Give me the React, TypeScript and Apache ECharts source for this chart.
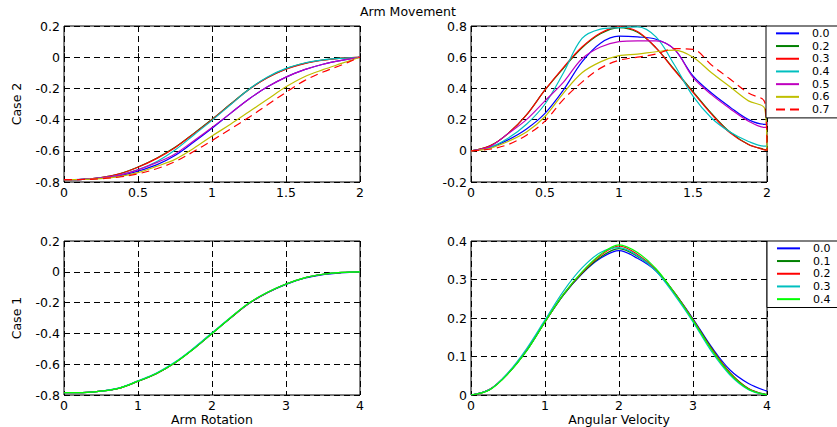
import React, { useEffect, useRef } from "react";
import * as echarts from "echarts";

// ---------- data ----------
const xTop = [0, 0.125, 0.25, 0.375, 0.5, 0.625, 0.75, 0.875, 1, 1.125, 1.25, 1.375, 1.5, 1.625, 1.75, 1.875, 1.985, 2];
const topNames = ["0.0", "0.2", "0.3", "0.4", "0.5", "0.6", "0.7"];
const topColors = ["#0000ff", "#008000", "#ff0000", "#00bfbf", "#bf00bf", "#bfbf00", "#ff0000"];

const posTop00 = [-0.785, -0.783, -0.775, -0.76, -0.73, -0.69, -0.63, -0.545, -0.455, -0.36, -0.268, -0.19, -0.128, -0.08, -0.045, -0.02, -0.003, 0];
const posTop02 = [-0.785, -0.783, -0.771, -0.747, -0.704, -0.648, -0.578, -0.49, -0.398, -0.3, -0.205, -0.13, -0.075, -0.04, -0.018, -0.006, -0.001, 0];
const posTop03 = [-0.785, -0.783, -0.772, -0.748, -0.705, -0.65, -0.58, -0.492, -0.4, -0.302, -0.207, -0.132, -0.077, -0.041, -0.019, -0.006, -0.001, 0];
const posTop04 = [-0.785, -0.783, -0.774, -0.755, -0.72, -0.67, -0.595, -0.5, -0.405, -0.305, -0.205, -0.127, -0.072, -0.037, -0.017, -0.007, -0.002, 0];
const posTop05 = [-0.785, -0.783, -0.774, -0.756, -0.722, -0.676, -0.62, -0.537, -0.45, -0.36, -0.268, -0.19, -0.128, -0.08, -0.045, -0.02, -0.003, 0];
const posTop06 = [-0.785, -0.784, -0.778, -0.765, -0.74, -0.7, -0.655, -0.585, -0.505, -0.43, -0.35, -0.27, -0.19, -0.125, -0.08, -0.04, -0.005, 0];
const posTop07 = [-0.785, -0.784, -0.779, -0.768, -0.748, -0.715, -0.67, -0.605, -0.535, -0.46, -0.385, -0.305, -0.225, -0.15, -0.095, -0.05, -0.006, 0];

const velTop00 = [0, 0.02, 0.07, 0.14, 0.24, 0.39, 0.57, 0.69, 0.735, 0.73, 0.715, 0.65, 0.48, 0.37, 0.28, 0.2, 0.17, 0.17];
const velTop02 = [0, 0.03, 0.11, 0.23, 0.39, 0.53, 0.66, 0.75, 0.79, 0.76, 0.66, 0.52, 0.38, 0.24, 0.12, 0.04, 0.008, 0.005];
const velTop03 = [0, 0.03, 0.11, 0.23, 0.39, 0.535, 0.665, 0.755, 0.795, 0.765, 0.66, 0.515, 0.375, 0.235, 0.115, 0.04, 0.006, 0.003];
const velTop04 = [0, 0.02, 0.08, 0.17, 0.3, 0.5, 0.72, 0.78, 0.79, 0.795, 0.73, 0.55, 0.35, 0.21, 0.12, 0.06, 0.03, 0.03];
const velTop05 = [0, 0.025, 0.11, 0.2, 0.32, 0.44, 0.59, 0.665, 0.7, 0.705, 0.705, 0.65, 0.47, 0.36, 0.27, 0.19, 0.15, 0.15];
const velTop06 = [0, 0.015, 0.06, 0.12, 0.22, 0.37, 0.5, 0.57, 0.61, 0.62, 0.635, 0.645, 0.6, 0.5, 0.41, 0.32, 0.27, 0];
const velTop07 = [0, 0.01, 0.04, 0.1, 0.19, 0.33, 0.44, 0.53, 0.58, 0.6, 0.62, 0.655, 0.65, 0.55, 0.46, 0.37, 0.31, 0];

const xBot = [0, 0.25, 0.5, 0.75, 1, 1.25, 1.5, 1.75, 2, 2.25, 2.5, 2.75, 3, 3.25, 3.5, 3.75, 4];
const botNames = ["0.0", "0.1", "0.2", "0.3", "0.4"];
const botColors = ["#0000ff", "#008000", "#ff0000", "#00bfbf", "#00ff00"];

const posBot00 = [-0.785, -0.784, -0.775, -0.755, -0.71, -0.66, -0.59, -0.5, -0.4, -0.3, -0.206, -0.136, -0.082, -0.042, -0.018, -0.006, 0];
const posBot01 = [-0.785, -0.784, -0.775, -0.755, -0.711, -0.661, -0.591, -0.501, -0.401, -0.301, -0.205, -0.135, -0.08, -0.04, -0.017, -0.005, 0];
const posBot02 = [-0.785, -0.784, -0.775, -0.755, -0.71, -0.66, -0.59, -0.5, -0.399, -0.299, -0.204, -0.134, -0.079, -0.039, -0.016, -0.004, 0];
const posBot03 = [-0.785, -0.784, -0.775, -0.754, -0.708, -0.657, -0.586, -0.496, -0.396, -0.297, -0.203, -0.133, -0.079, -0.039, -0.016, -0.004, 0];
const posBot04 = [-0.785, -0.784, -0.775, -0.755, -0.71, -0.66, -0.59, -0.501, -0.401, -0.298, -0.203, -0.133, -0.079, -0.039, -0.016, -0.004, 0];

const velBot00 = [0, 0.014, 0.056, 0.115, 0.19, 0.26, 0.315, 0.355, 0.375, 0.355, 0.322, 0.265, 0.198, 0.125, 0.065, 0.03, 0.01];
const velBot01 = [0, 0.014, 0.056, 0.115, 0.19, 0.26, 0.316, 0.358, 0.38, 0.36, 0.325, 0.266, 0.196, 0.122, 0.058, 0.017, 0.001];
const velBot02 = [0, 0.014, 0.056, 0.116, 0.19, 0.262, 0.318, 0.362, 0.387, 0.365, 0.325, 0.265, 0.195, 0.12, 0.057, 0.016, 0];
const velBot03 = [0, 0.014, 0.058, 0.12, 0.195, 0.27, 0.33, 0.37, 0.383, 0.362, 0.322, 0.26, 0.19, 0.113, 0.052, 0.014, 0];
const velBot04 = [0, 0.013, 0.055, 0.114, 0.19, 0.262, 0.32, 0.365, 0.39, 0.37, 0.328, 0.265, 0.194, 0.118, 0.055, 0.015, 0];

const posTop = [posTop00, posTop02, posTop03, posTop04, posTop05, posTop06, posTop07];
const velTop = [velTop00, velTop02, velTop03, velTop04, velTop05, velTop06, velTop07];
const posBot = [posBot00, posBot01, posBot02, posBot03, posBot04];
const velBot = [velBot00, velBot01, velBot02, velBot03, velBot04];

// ---------- styling ----------
const FONT = "DejaVu Sans";
const FS = 12.5;
const LEG_FS = 11;
const BOT_PREFIX = "b:";
const DASH_ICON = "path://M0,0h9v2h-9zM14,0h9v2h-9z";

function pairs(xs: number[], ys: number[]) {
  return xs.map((x, i) => [x, ys[i]]);
}

function makeAxis(gridIndex: number, min: number, max: number, interval: number, isX: boolean, name?: string) {
  return {
    type: "value",
    gridIndex,
    min,
    max,
    interval,
    name: name || "",
    nameLocation: "middle",
    nameGap: isX ? 16 : 41,
    nameTextStyle: { color: "#000", fontFamily: FONT, fontSize: FS },
    axisLine: { show: false },
    axisTick: { show: true, inside: true, length: 4, lineStyle: { color: "#000" } },
    axisLabel: {
      color: "#000",
      fontFamily: FONT,
      fontSize: FS,
      margin: 4,
      formatter: (v: number) => {
        const r = Math.round(v * 1000) / 1000;
        return r === 0 ? "0" : String(r);
      },
    },
    splitLine: { show: true, lineStyle: { color: "#000", width: 1, type: [6, 4] } },
  };
}

export default function App() {
  const ref = useRef<HTMLDivElement>(null);
  useEffect(() => {
    if (!ref.current) return;
    const chart = echarts.init(ref.current, null, { renderer: "svg" });

    const series: any[] = [];
    topNames.forEach((n, i) => {
      const ls = { color: topColors[i], width: 1.2, type: i === 6 ? [8, 5] : "solid" };
      series.push({
        type: "line", name: n, xAxisIndex: 0, yAxisIndex: 0, data: pairs(xTop, posTop[i]),
        showSymbol: false, symbol: "none", smooth: 0.35, lineStyle: ls, itemStyle: { color: topColors[i] },
      });
      series.push({
        type: "line", name: n, xAxisIndex: 1, yAxisIndex: 1, data: pairs(xTop, velTop[i]),
        showSymbol: false, symbol: "none", smooth: 0.35, lineStyle: ls, itemStyle: { color: topColors[i] },
      });
    });
    botNames.forEach((n, i) => {
      const ls = { color: botColors[i], width: 1.2, type: "solid" };
      series.push({
        type: "line", name: BOT_PREFIX + n, xAxisIndex: 2, yAxisIndex: 2, data: pairs(xBot, posBot[i]),
        showSymbol: false, symbol: "none", smooth: 0.35, lineStyle: ls, itemStyle: { color: botColors[i] },
      });
      series.push({
        type: "line", name: BOT_PREFIX + n, xAxisIndex: 3, yAxisIndex: 3, data: pairs(xBot, velBot[i]),
        showSymbol: false, symbol: "none", smooth: 0.35, lineStyle: ls, itemStyle: { color: botColors[i] },
      });
    });

    const legendCommon = {
      orient: "vertical",
      selectedMode: false,
      backgroundColor: "#fff",
      borderColor: "#000",
      borderWidth: 1,
      itemWidth: 23,
      itemHeight: 2,
      itemGap: 0,
      padding: [1, 40, 2, 10],
      textStyle: { color: "#000", fontFamily: FONT, fontSize: LEG_FS, lineHeight: 12.7, padding: [0, 0, 0, 8] },
      formatter: (name: string) => (name.startsWith(BOT_PREFIX) ? name.slice(BOT_PREFIX.length) : name),
    };

    const gridCommon = { show: true, borderColor: "#000", borderWidth: 1, backgroundColor: "#fff", containLabel: false };

    chart.setOption({
      animation: false,
      backgroundColor: "#fff",
      title: {
        text: "Arm Movement",
        left: 360,
        top: 5,
        padding: 0,
        textStyle: { color: "#000", fontFamily: FONT, fontSize: 12.5, lineHeight: 13, fontWeight: "normal" },
      },
      grid: [
        { ...gridCommon, left: 64, top: 26, width: 296, height: 156 },
        { ...gridCommon, left: 471, top: 26, width: 296, height: 156 },
        { ...gridCommon, left: 64, top: 241, width: 296, height: 154 },
        { ...gridCommon, left: 471, top: 241, width: 296, height: 154 },
      ],
      xAxis: [
        makeAxis(0, 0, 2, 0.5, true),
        makeAxis(1, 0, 2, 0.5, true),
        makeAxis(2, 0, 4, 1, true, "Arm Rotation"),
        makeAxis(3, 0, 4, 1, true, "Angular Velocity"),
      ],
      yAxis: [
        makeAxis(0, -0.8, 0.2, 0.2, false, "Case 2"),
        makeAxis(1, -0.2, 0.8, 0.2, false),
        makeAxis(2, -0.8, 0.2, 0.2, false, "Case 1"),
        makeAxis(3, 0, 0.4, 0.1, false),
      ],
      legend: [
        {
          ...legendCommon,
          left: 766,
          top: 26,
          data: topNames.map((n, i) => ({ name: n, icon: i === 6 ? DASH_ICON : "rect" })),
        },
        {
          ...legendCommon,
          left: 767,
          top: 241,
          data: botNames.map((n) => ({ name: BOT_PREFIX + n, icon: "rect" })),
        },
      ],
      series,
    });
    return () => chart.dispose();
  }, []);
  return (
    <div
      ref={ref}
      style={{ position: "fixed", left: 0, top: 0, width: 837, height: 427, background: "#fff" }}
    />
  );
}
